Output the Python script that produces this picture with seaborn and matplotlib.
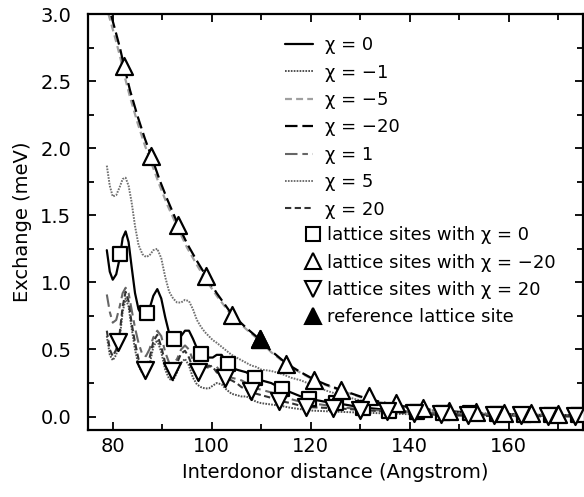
import matplotlib
matplotlib.use("Agg")
import matplotlib.pyplot as plt
import seaborn as sns
import pandas as pd
from matplotlib.lines import Line2D
from matplotlib.ticker import MultipleLocator

# ---------------- data ----------------
x_osc = [78.8, 79.4, 80.0, 80.7, 81.4, 82.0, 82.6, 83.2, 83.8, 84.5, 85.2, 86.0,
         86.7, 87.4, 88.2, 89.0, 89.8, 90.6, 91.4, 92.2, 93.0, 93.8, 94.6, 95.4,
         96.2, 97.0, 97.8, 98.6, 99.4, 100.2, 101.0, 102.0, 103.0, 104.0, 105.0,
         106.0, 107.0, 108.0, 109.0, 110.0, 112, 114, 116, 118, 120, 123, 126,
         130, 134, 138, 142, 146, 150, 155, 160, 165, 170, 175]

chi_0 = [1.24, 1.08, 1.02, 1.06, 1.18, 1.33, 1.38, 1.30, 1.12, 0.92, 0.80, 0.75,
         0.76, 0.80, 0.90, 0.95, 0.88, 0.74, 0.62, 0.57, 0.57, 0.60, 0.64, 0.64,
         0.58, 0.51, 0.47, 0.45, 0.44, 0.44, 0.46, 0.46, 0.40, 0.37, 0.35,
         0.34, 0.33, 0.30, 0.28, 0.27, 0.25, 0.21, 0.18, 0.15, 0.13, 0.11, 0.095,
         0.07, 0.055, 0.04, 0.03, 0.025, 0.02, 0.015, 0.01, 0.008, 0.006, 0.005]

chi_5 = [1.87, 1.72, 1.64, 1.65, 1.71, 1.77, 1.78, 1.72, 1.60, 1.42, 1.28, 1.21,
         1.19, 1.20, 1.24, 1.25, 1.18, 1.04, 0.93, 0.88, 0.85, 0.85, 0.87, 0.86,
         0.80, 0.72, 0.67, 0.63, 0.60, 0.57, 0.55, 0.52, 0.49, 0.46, 0.44,
         0.42, 0.40, 0.38, 0.37, 0.35, 0.34, 0.32, 0.29, 0.27, 0.24, 0.195, 0.16,
         0.12, 0.09, 0.07, 0.05, 0.04, 0.03, 0.025, 0.02, 0.015, 0.012, 0.01]

chi_p1 = [0.91, 0.78, 0.70, 0.72, 0.82, 0.92, 0.96, 0.92, 0.80, 0.66, 0.55, 0.46,
          0.45, 0.50, 0.59, 0.64, 0.60, 0.48, 0.40, 0.39, 0.43, 0.50, 0.53, 0.50,
          0.42, 0.36, 0.34, 0.35, 0.37, 0.38, 0.37, 0.33, 0.30, 0.29, 0.28,
          0.27, 0.25, 0.22, 0.21, 0.20, 0.18, 0.16, 0.13, 0.11, 0.10, 0.085, 0.07,
          0.055, 0.045, 0.035, 0.03, 0.025, 0.02, 0.015, 0.012, 0.01, 0.008, 0.006]

chi_20 = [0.64, 0.50, 0.45, 0.50, 0.62, 0.82, 0.93, 0.86, 0.70, 0.55, 0.43, 0.37,
          0.36, 0.43, 0.56, 0.61, 0.52, 0.40, 0.34, 0.34, 0.40, 0.47, 0.49, 0.44,
          0.36, 0.33, 0.33, 0.36, 0.38, 0.37, 0.33, 0.30, 0.28, 0.27, 0.25,
          0.22, 0.20, 0.19, 0.17, 0.16, 0.14, 0.115, 0.10, 0.08, 0.07, 0.065, 0.06,
          0.05, 0.04, 0.03, 0.02, 0.012, 0.008, 0.005, 0.003, 0.002, 0.001, 0.0]

chi_m1 = [0.60, 0.46, 0.42, 0.46, 0.58, 0.78, 0.88, 0.82, 0.66, 0.50, 0.38, 0.32,
          0.31, 0.38, 0.52, 0.57, 0.48, 0.35, 0.28, 0.27, 0.33, 0.40, 0.43, 0.38,
          0.29, 0.24, 0.22, 0.21, 0.21, 0.23, 0.25, 0.24, 0.20, 0.17, 0.16,
          0.15, 0.15, 0.13, 0.11, 0.10, 0.09, 0.08, 0.065, 0.055, 0.045, 0.04, 0.035,
          0.03, 0.025, 0.02, 0.015, 0.012, 0.01, 0.008, 0.006, 0.005, 0.004, 0.003]

x_smooth = [78.5, 79.6, 80.5, 81.5, 82.3, 83.5, 85, 86.5, 87.8, 89.5, 91, 93.2, 95,
            97, 98.8, 101, 104.1, 107, 109.7, 112, 115.1, 118, 120.7, 123, 126, 130,
            134, 138, 142, 146, 150, 155, 160, 165, 170, 175]
chi_m20 = [3.15, 3.0, 2.88, 2.74, 2.61, 2.43, 2.24, 2.07, 1.94, 1.76, 1.62, 1.43, 1.29,
           1.16, 1.05, 0.92, 0.76, 0.66, 0.575, 0.49, 0.395, 0.33, 0.276, 0.24, 0.20, 0.15,
           0.11, 0.08, 0.06, 0.045, 0.035, 0.025, 0.018, 0.013, 0.01, 0.007]
chi_m5 = [3.08, 2.94, 2.82, 2.68, 2.55, 2.38, 2.19, 2.02, 1.89, 1.72, 1.58, 1.40, 1.26,
          1.13, 1.02, 0.90, 0.75, 0.65, 0.565, 0.48, 0.39, 0.325, 0.27, 0.235, 0.195, 0.145,
          0.105, 0.078, 0.058, 0.043, 0.033, 0.024, 0.017, 0.012, 0.009, 0.006]

x_sq = [81.5, 87.0, 92.4, 97.9, 103.3, 108.7, 114.1, 119.6, 125.0, 130.5, 135.9,
        141.4, 146.8, 152.2, 157.7, 163.1, 168.5, 174.0]
y_sq = [1.21, 0.77, 0.575, 0.47, 0.395, 0.29, 0.207, 0.132, 0.10, 0.065, 0.045,
        0.035, 0.03, 0.025, 0.02, 0.015, 0.012, 0.01]

x_up = [82.3, 87.8, 93.2, 98.8, 104.1, 109.7, 115.1, 120.7, 126.1, 131.7, 137.2,
        142.6, 148.0, 153.4, 159.0, 164.4, 170.0]
y_up = [2.61, 1.94, 1.43, 1.05, 0.76, 0.575, 0.395, 0.276, 0.20, 0.15, 0.10,
        0.065, 0.045, 0.035, 0.03, 0.025, 0.02]

x_dn = [81.1, 86.5, 91.9, 97.3, 102.6, 108.0, 113.6, 119.0, 124.4, 129.9, 135.4,
        140.8, 146.3, 151.7, 157.1, 162.5, 167.9, 173.3]
y_dn = [0.555, 0.35, 0.34, 0.335, 0.29, 0.19, 0.115, 0.072, 0.065, 0.05, 0.04,
        0.03, 0.02, 0.015, 0.012, 0.01, 0.008, 0.006]

x_ref = [109.7]
y_ref = [0.575]

line_labels = ["χ = 0", "χ = −1", "χ = −5", "χ = −20", "χ = 1", "χ = 5", "χ = 20"]
marker_labels = ["lattice sites with χ = 0", "lattice sites with χ = −20",
                 "lattice sites with χ = 20", "reference lattice site"]

# ---------------- style ----------------
sns.set_style("ticks")
plt.rcParams["font.family"] = ["DejaVu Sans"]
plt.rcParams["lines.scale_dashes"] = False
plt.rcParams["axes.unicode_minus"] = True
for k in ["text.color", "axes.labelcolor", "xtick.color", "ytick.color",
          "axes.edgecolor"]:
    plt.rcParams[k] = "black"

FS_TICK = 14
FS_LAB = 14
FS_LEG = 13

fig = plt.figure(figsize=(5.84, 4.97), dpi=100)
ax = fig.add_axes([88 / 584, 1 - 430 / 497, (583 - 88) / 584, (430 - 14) / 497])

curves = [
    (x_osc, chi_0, dict(color="black", lw=1.6, linestyle="-")),
    (x_osc, chi_m1, dict(color="#505050", lw=1.4, linestyle=(0, (1.2, 0.9)))),
    (x_smooth, chi_m5, dict(color="#a0a0a0", lw=1.6, linestyle=(0, (5, 3)))),
    (x_smooth, chi_m20, dict(color="black", lw=1.6, linestyle=(0, (9, 3.5)))),
    (x_osc, chi_p1, dict(color="#666666", lw=1.5, linestyle=(0, (9, 3.5, 4, 3.5)))),
    (x_osc, chi_5, dict(color="#707070", lw=1.4, linestyle=(0, (1.2, 0.9)))),
    (x_osc, chi_20, dict(color="#333333", lw=1.5, linestyle=(0, (4.5, 2.5)))),
]

handles = []
for (xs, ys, kw), lab in zip(curves, line_labels):
    df = pd.DataFrame({"x": xs, "y": ys})
    sns.lineplot(data=df, x="x", y="y", ax=ax, errorbar=None, zorder=2, **kw)
    handles.append(Line2D([], [], **kw))

mk_kw = dict(facecolor="white", edgecolor="black", linewidth=1.6, zorder=5)
sns.scatterplot(x=x_sq, y=y_sq, marker="s", s=105, ax=ax, **mk_kw)
sns.scatterplot(x=x_up, y=y_up, marker="^", s=150, ax=ax, **mk_kw)
sns.scatterplot(x=x_dn, y=y_dn, marker="v", s=150, ax=ax, **mk_kw)
sns.scatterplot(x=x_ref, y=y_ref, marker="^", s=150, ax=ax,
                facecolor="black", edgecolor="black", linewidth=1.6, zorder=6)

ax.set_xlim(75, 175)
ax.set_ylim(-0.1, 3.0)
ax.xaxis.set_major_locator(MultipleLocator(20))
ax.xaxis.set_minor_locator(MultipleLocator(10))
ax.yaxis.set_minor_locator(MultipleLocator(0.25))
ax.set_yticks([0, 0.5, 1.0, 1.5, 2.0, 2.5, 3.0])
ax.set_yticklabels(["0.0", "0.5", "1.0", "1.5", "2.0", "2.5", "3.0"])
ax.tick_params(which="both", direction="in", top=True, right=True,
               labelsize=FS_TICK, width=1.3, color="black", labelcolor="black")
ax.tick_params(axis="y", pad=12)
ax.tick_params(axis="x", pad=5)
ax.tick_params(which="major", length=6)
ax.tick_params(which="minor", length=4)
for sp in ax.spines.values():
    sp.set_linewidth(1.6)
    sp.set_color("black")

ax.set_xlabel("Interdonor distance (Angstrom)", fontsize=FS_LAB, labelpad=5,
              color="black")
ax.set_ylabel("Exchange (meV)", fontsize=FS_LAB, labelpad=6, color="black")

leg1 = ax.legend(handles, line_labels, loc="upper left",
                 bbox_to_anchor=(285 / 584, 1 - 36.3 / 497),
                 bbox_transform=fig.transFigure, frameon=False, fontsize=FS_LEG,
                 handlelength=1.55, handletextpad=0.66, labelspacing=0.52,
                 borderpad=0, borderaxespad=0, labelcolor="black")
ax.add_artist(leg1)

mh = [Line2D([], [], marker="s", ls="none", ms=10.5, mfc="white", mec="black", mew=1.5),
      Line2D([], [], marker="^", ls="none", ms=12, mfc="white", mec="black", mew=1.5),
      Line2D([], [], marker="v", ls="none", ms=12, mfc="white", mec="black", mew=1.5),
      Line2D([], [], marker="^", ls="none", ms=12, mfc="black", mec="black", mew=1.5)]
leg2 = ax.legend(mh, marker_labels, loc="upper left",
                 bbox_to_anchor=(304.3 / 584, 1 - 226.3 / 497),
                 bbox_transform=fig.transFigure, frameon=False, fontsize=FS_LEG,
                 handlelength=0.96, handletextpad=0.29, labelspacing=0.52,
                 borderpad=0, borderaxespad=0, labelcolor="black")

fig.savefig("out.png", dpi=100)
